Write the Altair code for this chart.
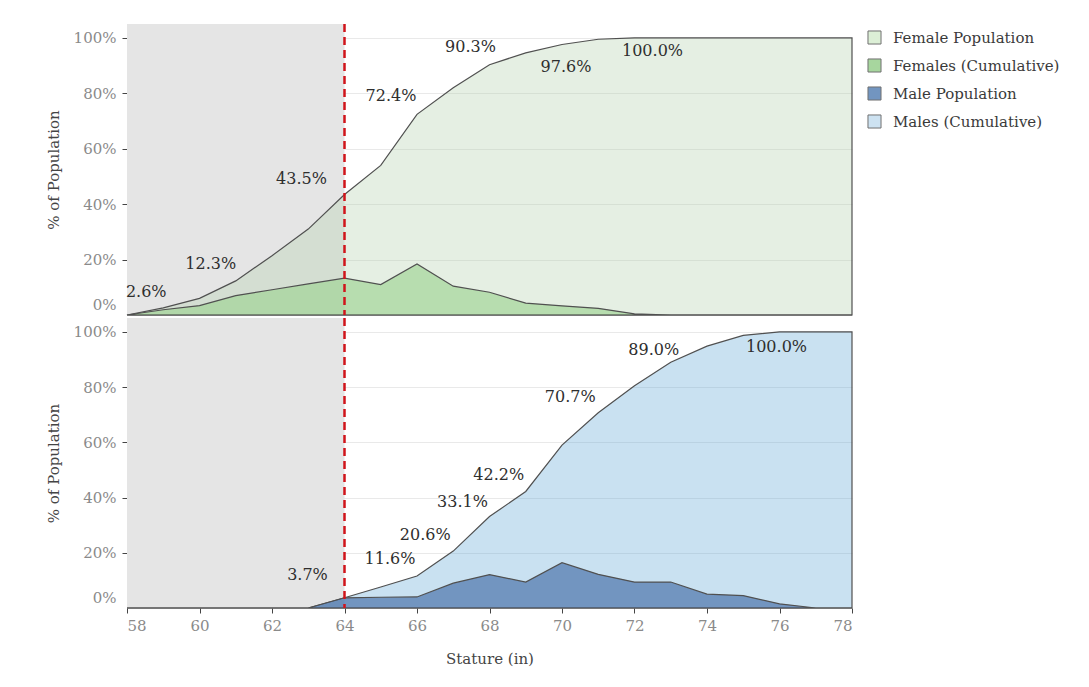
import altair as alt
import pandas as pd

# ---- data (percent of population) ----
stature = [58, 59, 60, 61, 62, 63, 64, 65, 66, 67, 68, 69, 70, 71, 72, 73, 74, 75, 76, 77, 78]

female_dist = [0.0, 1.9, 3.4, 7.0, 9.1, 11.2, 13.3, 11.0, 18.4, 10.4, 8.2, 4.3, 3.3, 2.4, 0.4, 0.0, 0.0, 0.0, 0.0, 0.0, 0.0]
female_cum = [0.0, 2.6, 6.0, 12.3, 21.4, 31.0, 43.5, 54.0, 72.4, 82.0, 90.3, 94.6, 97.6, 99.5, 100.0, 100.0, 100.0, 100.0, 100.0, 100.0, 100.0]

male_dist = [0.0, 0.0, 0.0, 0.0, 0.0, 0.0, 3.7, 3.9, 4.0, 9.0, 12.1, 9.4, 16.4, 12.2, 9.4, 9.4, 5.0, 4.5, 1.5, 0.0, 0.0]
male_cum = [0.0, 0.0, 0.0, 0.0, 0.0, 0.0, 3.7, 7.6, 11.6, 20.6, 33.1, 42.2, 59.0, 70.7, 80.5, 89.0, 94.8, 98.7, 100.0, 100.0, 100.0]

female_label_at = [59, 61, 64, 66, 68, 70, 72]
male_label_at = [64, 66, 67, 68, 69, 71, 73, 76]

shade_start = 58
cutoff = 64

series_names = ["Female Population", "Females (Cumulative)", "Male Population", "Males (Cumulative)"]
legend_colors = ["#dcefd6", "#a7d69e", "#7295c0", "#cde2f1"]

x_ticks = [58, 60, 62, 64, 66, 68, 70, 72, 74, 76, 78]
y_ticks = [0, 20, 40, 60, 80, 100]

# ---- styles ----
FONT = "DejaVu Serif"
female_cum_fill, female_dist_fill = "#b4d1ae", "#9ed294"
male_cum_fill, male_dist_fill = "#65a9d7", "#436ca6"
CUM_OPACITY, DIST_OPACITY = 0.35, 0.65

# label text centre offsets (pixels) relative to the labelled point
female_offsets = [(-17, -16), (-25, -17), (-43, -15), (-26, -18), (-19, -18), (4, 22), (18, 13)]
male_offsets = [(-37, -23), (-27, -17), (-28, -16), (-27, -15), (-27, -16), (-28, -16), (-17, -12), (-3, 15)]

color_scale = alt.Scale(domain=series_names, range=legend_colors)


def panel(cum, dist, cum_fill, dist_fill, label_at, offsets, bottom, with_legend):
    df = pd.DataFrame({"stature": stature, "cum": cum, "dist": dist})

    if bottom:
        x_axis = alt.Axis(values=x_ticks, format="d", title="Stature (in)", domain=False,
                          tickSize=5, labelPadding=5, titlePadding=18)
    else:
        x_axis = alt.Axis(values=x_ticks, labels=False, ticks=False, domain=False, title=None)

    x = alt.X("stature:Q", scale=alt.Scale(domain=[58, 78], nice=False, zero=False), axis=x_axis)
    y_scale = alt.Scale(domain=[0, 105], nice=False)
    y_axis = alt.Axis(values=y_ticks, labelExpr="datum.value + '%'", title="% of Population",
                      labelOffset={"condition": {"test": "datum.value === 0", "value": -11}, "value": 0},
                      tickOpacity={"condition": {"test": "datum.value === 0", "value": 0}, "value": 1},
                      domain=False, tickSize=5, labelPadding=6, titlePadding=12)

    shade = alt.Chart(pd.DataFrame({"a": [0]})).mark_rect(color="#e5e5e5").encode(
        x=alt.datum(shade_start), x2=alt.datum(cutoff))

    area_cum = alt.Chart(df).mark_area(
        fill=cum_fill, fillOpacity=CUM_OPACITY, stroke="#505050", strokeWidth=1.2).encode(
        x=x, y=alt.Y("cum:Q", scale=y_scale, axis=y_axis))
    area_dist = alt.Chart(df).mark_area(
        fill=dist_fill, fillOpacity=DIST_OPACITY, stroke="#505050", strokeWidth=1.2).encode(
        x=x, y=alt.Y("dist:Q", scale=y_scale, axis=y_axis))

    rule = alt.Chart(pd.DataFrame({"a": [0]})).mark_rule(
        color="#d0151b", strokeDash=[8, 5], strokeWidth=2.5).encode(x=alt.datum(cutoff))

    lookup = dict(zip(stature, cum))
    texts = []
    for s, (dx, dy) in zip(label_at, offsets):
        tdf = pd.DataFrame({"stature": [s], "cum": [lookup[s]]})
        t = alt.Chart(tdf).transform_calculate(
            label="format(datum.cum, '.1f') + '%'"
        ).mark_text(font=FONT, fontSize=16, color="#2e2e2e", dx=dx, dy=dy,
                    align="center", baseline="middle").encode(
            x=alt.X("stature:Q"), y=alt.Y("cum:Q"), text="label:N")
        texts.append(t)

    layers = [shade, area_cum, area_dist, rule] + texts
    if with_legend:
        leg_df = pd.DataFrame({"series": series_names, "stature": [58] * 4, "cum": [0] * 4})
        legend_layer = alt.Chart(leg_df).mark_area(opacity=0, stroke="#707070").encode(
            x=alt.X("stature:Q"), y=alt.Y("cum:Q"),
            color=alt.Color("series:N", scale=color_scale, sort=series_names,
                            legend=alt.Legend(title=None, orient="right")))
        layers.append(legend_layer)

    return alt.layer(*layers).properties(width=725, height=291 if not bottom else 290)


top = panel(female_cum, female_dist, female_cum_fill, female_dist_fill,
            female_label_at, female_offsets, bottom=False, with_legend=True)
bottom = panel(male_cum, male_dist, male_cum_fill, male_dist_fill,
               male_label_at, male_offsets, bottom=True, with_legend=False)

chart = alt.vconcat(top, bottom, spacing=-3).properties(
    padding={"left": 38, "top": 14, "right": 5, "bottom": 5},
    background="white",
).configure_view(stroke=None).configure_axis(
    labelFont=FONT, labelFontSize=15, labelColor="#8a8a8a",
    titleFont=FONT, titleFontSize=15, titleColor="#444444", titleFontWeight="normal",
    tickColor="#444444", tickWidth=1,
    gridColor="#e9e9e9", gridWidth=1,
).configure_legend(
    labelFont=FONT, labelFontSize=15, labelColor="#3a3a3a",
    symbolType="square", symbolSize=170, symbolStrokeColor="#707070", symbolStrokeWidth=1,
    symbolOpacity=1, rowPadding=9, offset=6, padding=6, labelOffset=11, labelLimit=300,
)

chart.save("out.html", embed_options={"renderer": "svg", "actions": False})
